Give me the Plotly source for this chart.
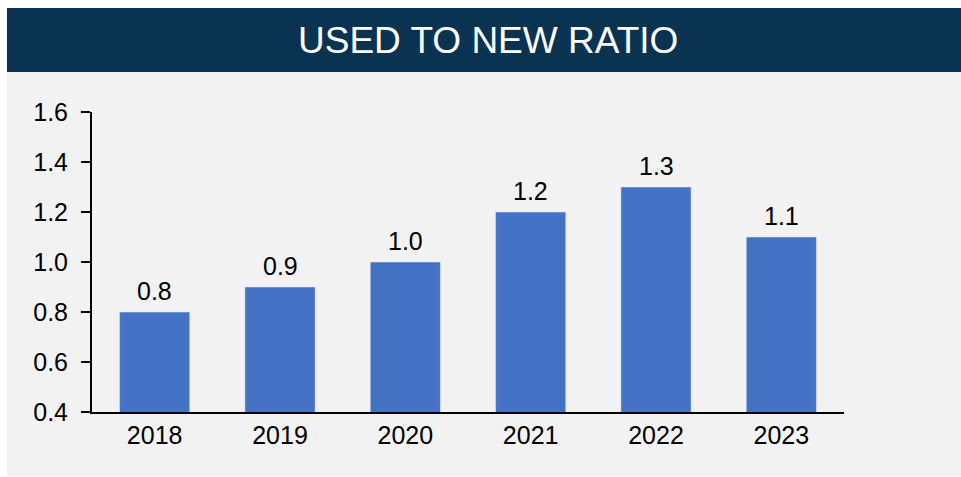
import plotly.graph_objects as go

# Used-to-new vehicle sales ratio by year
years = ["2018", "2019", "2020", "2021", "2022", "2023"]
ratios = [0.8, 0.9, 1.0, 1.2, 1.3, 1.1]
y_ticks = [0.4, 0.6, 0.8, 1.0, 1.2, 1.4, 1.6]

NAVY = "#0a3352"
PANEL = "#f2f2f2"
BAR = "#4472c4"
FONT = "Liberation Sans, Arial, sans-serif"

W, H = 961, 477
L, R, T, B = 92, 117, 112, 65
pw, ph = W - L - R, H - T - B


def px_x(px):
    return (px - L) / pw


def px_y(py):
    return (H - B - py) / ph


fig = go.Figure(
    go.Bar(
        x=years,
        y=ratios,
        marker_color=BAR,
        width=0.56,
        cliponaxis=False,
    )
)

# value labels above each bar (category index positions on the x axis)
value_labels = [
    dict(text=f"{v:.1f}", x=i, y=v, xref="x", yref="y",
         showarrow=False, xanchor="center", yanchor="bottom", yshift=5,
         font=dict(size=25, color="black", family=FONT))
    for i, v in enumerate(ratios)
]

fig.update_layout(
    width=W,
    height=H,
    margin=dict(l=L, r=R, t=T, b=B, pad=0),
    paper_bgcolor="white",
    plot_bgcolor="rgba(0,0,0,0)",
    font=dict(family=FONT, size=25, color="black"),
    showlegend=False,
    shapes=[
        # grey chart panel
        dict(type="rect", xref="paper", yref="paper",
             x0=px_x(7), x1=px_x(961), y0=px_y(476), y1=px_y(72),
             fillcolor=PANEL, line_width=0, layer="below"),
        # title band
        dict(type="rect", xref="paper", yref="paper",
             x0=px_x(7), x1=px_x(961), y0=px_y(72), y1=px_y(8),
             fillcolor=NAVY, line_width=0, layer="below"),
    ],
    annotations=[
        dict(text="USED TO NEW RATIO", xref="paper", yref="paper",
             x=px_x(488), y=px_y(40), showarrow=False,
             xanchor="center", yanchor="middle",
             font=dict(size=37, color="white", family=FONT)),
    ] + value_labels,
)

fig.update_xaxes(
    type="category",
    showline=True, linecolor="black", linewidth=2,
    ticks="", showgrid=False,
    tickfont=dict(size=25),
)
fig.update_yaxes(
    range=[0.4, 1.6], tickvals=y_ticks, tickformat=".1f",
    showline=True, linecolor="black", linewidth=2,
    ticks="outside", ticklen=9, tickwidth=1.5, tickcolor="black",
    ticklabelstandoff=8,
    showgrid=False, zeroline=False,
    tickfont=dict(size=25),
)

fig.write_html("out.html")
